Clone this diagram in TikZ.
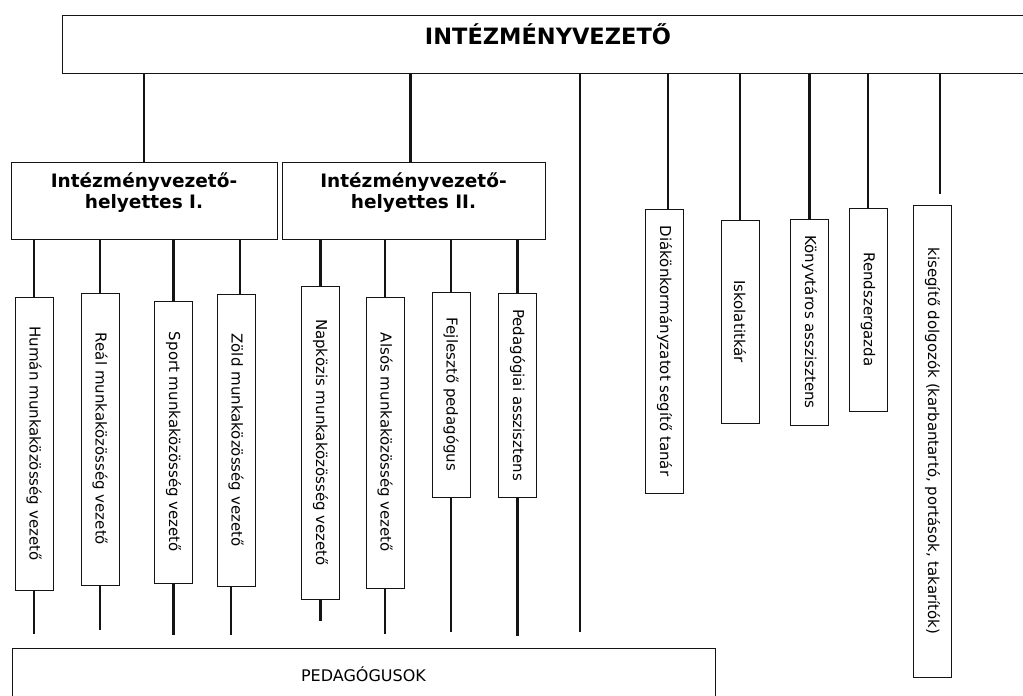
\documentclass[tikz,border=0pt]{standalone}
\usepackage{fontspec}
\setmainfont{DejaVu Sans}
\usepackage{tikz}
\usetikzlibrary{positioning}
\usepackage{xcolor}
\definecolor{inkblack}{rgb}{0.08, 0.08, 0.08}

\begin{document}
\begin{tikzpicture}[x=1pt,y=-1pt]
	% Fix the page to the size of the scan, boxes may run off the edge.
	\useasboundingbox (0,0) rectangle (1023,696);
	\clip (0,0) rectangle (1023,696);

	\tikzstyle{org box}=[draw=inkblack, line width=0.8pt, inner sep=0pt]
	\tikzstyle{job box}=[org box, rotate=-90, minimum height=38pt, font=\fontsize{15}{18}\selectfont]
	\tikzstyle{link}=[draw=inkblack, line width=2.3pt]

	% Head of the institution. The title sits above the middle of the box.
	\node at (546,44) [org box, minimum width=968pt, minimum height=58pt] (chief) {};
	\node at (548,34) [font=\fontsize{22.5}{26}\selectfont\bfseries] (chiefname) {INTÉZMÉNYVEZETŐ};

	% The two deputies.
	\node at (144,200.5) [org box, minimum width=266pt, minimum height=77pt] (dep1) {};
	\node at (dep1) [yshift=8pt, align=center, font=\fontsize{18.5}{21}\selectfont\bfseries] (dep1name) {Intézményvezető-\\helyettes I.};
	\node at (413.5,200.5) [org box, minimum width=263pt, minimum height=77pt] (dep2) {};
	\node at (dep2) [yshift=8pt, align=center, font=\fontsize{18.5}{21}\selectfont\bfseries] (dep2name) {Intézményvezető-\\helyettes II.};

	% Standing boxes under the first deputy.
	\node at (34,443.5) [job box, minimum width=293pt] (hum) {Humán munkaközösség vezető};
	\node at (100,439) [job box, minimum width=292pt] (real) {Reál munkaközösség vezető};
	\node at (173.5,442) [job box, minimum width=282pt] (sport) {Sport munkaközösség vezető};
	\node at (236,440) [job box, minimum width=292pt] (zold) {Zöld munkaközösség vezető};

	% Standing boxes under the second deputy.
	\node at (320.5,442.5) [job box, minimum width=313pt] (napk) {Napközis munkaközösség vezető};
	\node at (385,442.5) [job box, minimum width=291pt] (also) {Alsós munkaközösség vezető};
	\node at (451,394.5) [job box, minimum width=205pt] (fejl) {Fejlesztő pedagógus};
	\node at (517.5,395) [job box, minimum width=204pt] (pedas) {Pedagógiai asszisztens};

	% Staff reporting to the head directly.
	\node at (664.5,351) [job box, minimum width=284pt] (diak) {Diákönkormányzatot segítő tanár};
	\node at (740,321.5) [job box, minimum width=203pt] (iskola) {Iskolatitkár};
	\node at (809.5,322) [job box, minimum width=206pt] (konyv) {Könyvtáros asszisztens};
	\node at (868,309.5) [job box, minimum width=203pt] (rendsz) {Rendszergazda};
	\node at (932.5,441) [job box, minimum width=472pt] (kiseg) {kisegítő dolgozók (karbantartó, portások, takarítók)};

	% The teachers, the box runs off the bottom edge.
	\node at (363.5,674) [org box, minimum width=703pt, minimum height=52pt, font=\fontsize{16}{19}\selectfont] (ped) {PEDAGÓGUSOK};
	\coordinate (drop) at (580,0);

	% Lines from the head.
	\draw [link] (chief.south -| dep1)--(dep1.north);
	\draw [link] ([xshift=-3pt]chief.south -| dep2)--([xshift=-3pt]dep2.north);
	\draw [link, shorten >=16pt] (chief.south -| drop)--(ped.north -| drop);
	\draw [link] ([xshift=3.5pt]chief.south -| diak)--([xshift=3.5pt]diak.west);
	\draw [link] (chief.south -| iskola)--(iskola.west);
	\draw [link] (chief.south -| konyv)--(konyv.west);
	\draw [link] (chief.south -| rendsz)--(rendsz.west);
	\draw [link, shorten >=11pt] ([xshift=7.5pt]chief.south -| kiseg)--([xshift=7.5pt]kiseg.west);

	% Lines from the deputies.
	\draw [link] (dep1.south -| hum)--(hum.west);
	\draw [link] (dep1.south -| real)--(real.west);
	\draw [link] (dep1.south -| sport)--(sport.west);
	\draw [link] ([xshift=4pt]dep1.south -| zold)--([xshift=4pt]zold.west);
	\draw [link] (dep2.south -| napk)--(napk.west);
	\draw [link] (dep2.south -| also)--(also.west);
	\draw [link] (dep2.south -| fejl)--(fejl.west);
	\draw [link] (dep2.south -| pedas)--(pedas.west);

	% Lines down to the teachers, they stop short of the box.
	\draw [link, shorten >=14pt] (hum.east)--(hum.east |- ped.north);
	\draw [link, shorten >=18pt] (real.east)--(real.east |- ped.north);
	\draw [link, shorten >=13pt] (sport.east)--(sport.east |- ped.north);
	\draw [link, shorten >=13pt] ([xshift=-5pt]zold.east)--([xshift=-5pt]zold.east |- ped.north);
	\draw [link, shorten >=27pt] (napk.east)--(napk.east |- ped.north);
	\draw [link, shorten >=14pt] (also.east)--(also.east |- ped.north);
	\draw [link, shorten >=16pt] (fejl.east)--(fejl.east |- ped.north);
	\draw [link, shorten >=12pt] (pedas.east)--(pedas.east |- ped.north);
\end{tikzpicture}
\end{document}
